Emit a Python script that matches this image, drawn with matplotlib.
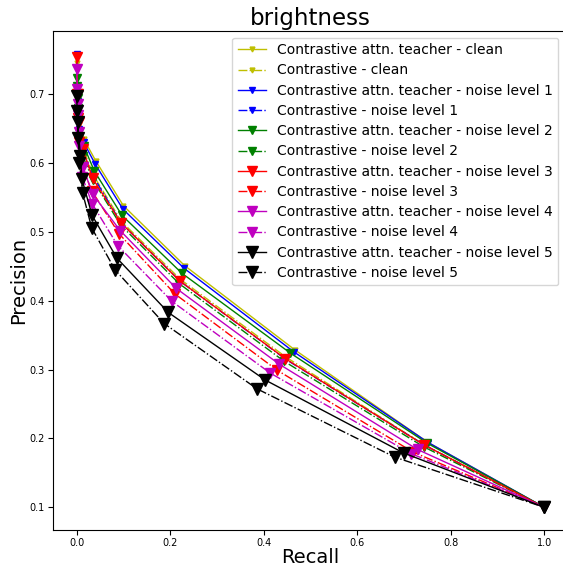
import matplotlib
matplotlib.use('Agg')
from matplotlib import pyplot as plt

# recall / precision per curve
labels = ['Contrastive attn. teacher - clean', 'Contrastive - clean',
          'Contrastive attn. teacher - noise level 1', 'Contrastive - noise level 1',
          'Contrastive attn. teacher - noise level 2', 'Contrastive - noise level 2',
          'Contrastive attn. teacher - noise level 3', 'Contrastive - noise level 3',
          'Contrastive attn. teacher - noise level 4', 'Contrastive - noise level 4',
          'Contrastive attn. teacher - noise level 5', 'Contrastive - noise level 5']

recall = [
    [0, 0.002, 0.006, 0.015, 0.041, 0.100, 0.231, 0.466, 0.752, 1.0],
    [0, 0.002, 0.006, 0.014, 0.036, 0.096, 0.222, 0.448, 0.745, 1.0],
    [0, 0.002, 0.006, 0.015, 0.040, 0.099, 0.230, 0.464, 0.752, 1.0],
    [0, 0.002, 0.006, 0.014, 0.036, 0.095, 0.222, 0.447, 0.745, 1.0],
    [0, 0.002, 0.006, 0.015, 0.038, 0.097, 0.225, 0.457, 0.750, 1.0],
    [0, 0.002, 0.006, 0.013, 0.035, 0.094, 0.219, 0.444, 0.742, 1.0],
    [0, 0.002, 0.005, 0.013, 0.034, 0.095, 0.220, 0.446, 0.742, 1.0],
    [0, 0.002, 0.005, 0.012, 0.032, 0.091, 0.210, 0.429, 0.720, 1.0],
    [0, 0.002, 0.005, 0.013, 0.034, 0.093, 0.213, 0.433, 0.729, 1.0],
    [0, 0.002, 0.005, 0.012, 0.033, 0.088, 0.204, 0.414, 0.715, 1.0],
    [0, 0.002, 0.008, 0.011, 0.033, 0.086, 0.196, 0.403, 0.699, 1.0],
    [0, 0.003, 0.006, 0.013, 0.032, 0.082, 0.187, 0.386, 0.680, 1.0],
]
precision = [
    [0.757, 0.710, 0.665, 0.635, 0.603, 0.538, 0.451, 0.329, 0.194, 0.1],
    [0.745, 0.700, 0.655, 0.620, 0.582, 0.515, 0.431, 0.318, 0.190, 0.1],
    [0.759, 0.710, 0.660, 0.630, 0.598, 0.533, 0.447, 0.326, 0.194, 0.1],
    [0.737, 0.690, 0.650, 0.615, 0.580, 0.513, 0.428, 0.315, 0.190, 0.1],
    [0.724, 0.695, 0.660, 0.625, 0.588, 0.524, 0.440, 0.324, 0.193, 0.1],
    [0.712, 0.680, 0.645, 0.610, 0.575, 0.510, 0.425, 0.312, 0.188, 0.1],
    [0.754, 0.700, 0.660, 0.620, 0.578, 0.513, 0.429, 0.316, 0.191, 0.1],
    [0.700, 0.665, 0.630, 0.595, 0.560, 0.497, 0.410, 0.299, 0.180, 0.1],
    [0.736, 0.686, 0.645, 0.595, 0.555, 0.502, 0.418, 0.308, 0.184, 0.1],
    [0.708, 0.670, 0.625, 0.580, 0.541, 0.480, 0.399, 0.295, 0.178, 0.1],
    [0.697, 0.660, 0.610, 0.577, 0.524, 0.462, 0.383, 0.285, 0.179, 0.1],
    [0.675, 0.636, 0.600, 0.556, 0.506, 0.445, 0.367, 0.272, 0.173, 0.1],
]
colors = ['y', 'b', 'g', 'r', 'm', 'k']

fig = plt.figure(figsize=(5.63, 5.71), dpi=100)
ax = fig.add_axes([0.0947, 0.0718, 0.9135, 0.874])

for i in range(12):
    level = i // 2
    style = '-' if i % 2 == 0 else '-.'
    ax.plot(recall[i], precision[i], style, color=colors[level], marker='v',
            markersize=3.5 + 1.1 * level, lw=1.0, label=labels[i])

ax.set_title('brightness', fontsize=16.5, pad=4)
ax.set_xlabel('Recall', fontsize=14, labelpad=0)
ax.set_ylabel('Precision', fontsize=14, labelpad=1)
ax.tick_params(labelsize=7, pad=2.5)
ax.legend(loc='upper right', fontsize=10, borderaxespad=0.3, handlelength=2,
          labelspacing=0.45, bbox_to_anchor=(0.99, 0.995))

fig.savefig('out.png', dpi=100)
